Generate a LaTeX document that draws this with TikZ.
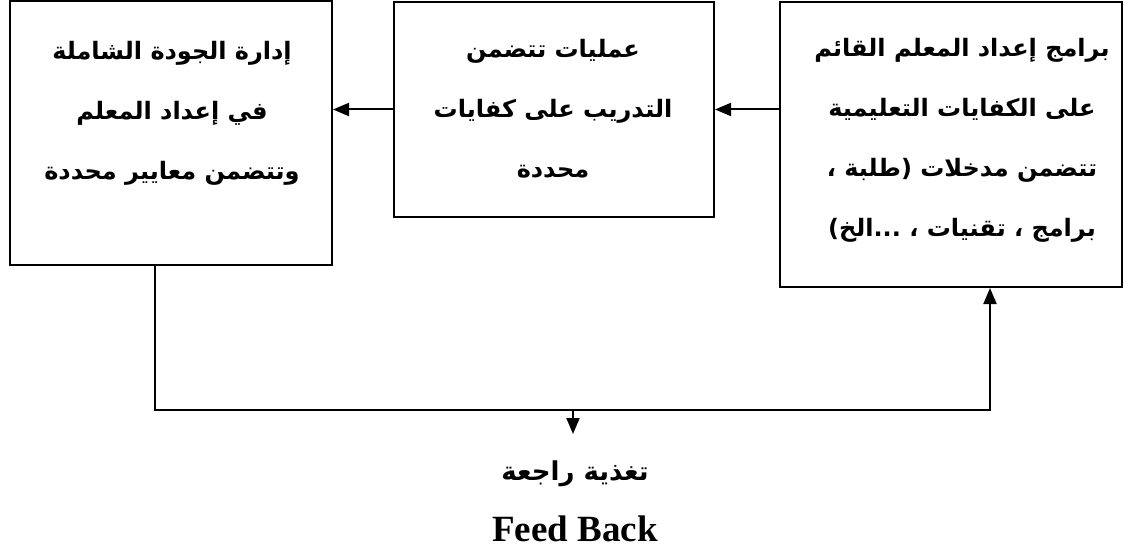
\documentclass[tikz,border=0pt]{standalone}
\usepackage{fontspec}
\usetikzlibrary{arrows.meta}
\TeXXeTstate=1
\newfontfamily\arabicfont[Script=Arabic]{DejaVu Sans}
\newfontfamily\latinserif{Liberation Serif}
\tikzset{
  box/.style={draw, line width=2pt, inner sep=0pt},
  artxt/.style={align=center, inner sep=0pt,
    font=\arabicfont\bfseries\fontsize{24}{60}\selectfont},
  conn/.style={line width=2pt},
  arr/.style={conn, -{Triangle[length=16pt,width=13pt]}},
}
\begin{document}
\begin{tikzpicture}[x=1pt,y=-1pt]
\useasboundingbox (0,0) rectangle (1125,548);
% boxes
\node[box, minimum width=322pt, minimum height=264pt] (L) at (171,133) {};
\node[box, minimum width=320pt, minimum height=215pt] (M) at (554,109.5) {};
\node[box, minimum width=342pt, minimum height=285pt] (R) at (951,144.5) {};
% texts
\node[artxt] (Lt) at (172,113) {\beginR إدارة الجودة الشاملة\endR\\\beginR في إعداد المعلم\endR\\\beginR وتتضمن معايير محددة\endR};
\node[artxt] (Mt) at (553,109) {\beginR عمليات تتضمن\endR\\\beginR التدريب على كفايات\endR\\\beginR محددة\endR};
\node[artxt] (Rt) at (962,140) {\beginR برامج إعداد المعلم القائم\endR\\\beginR على الكفايات التعليمية\endR\\\beginR تتضمن مدخلات (طلبة ،\endR\\\beginR برامج ، تقنيات ، ...الخ)\endR};
\node[inner sep=0pt, font=\arabicfont\bfseries\fontsize{26}{30}\selectfont] (fbA) at (575,474) {\beginR تغذية راجعة\endR};
\node[inner sep=0pt, font=\latinserif\bfseries\fontsize{37}{40}\selectfont] (fbE) at (575,529) {Feed Back};
% feedback coordinates
\coordinate (fbL) at (155,410);
\coordinate (fbR) at (990,410);
\coordinate (fbM) at (573,410);
\coordinate (fbT) at (573,434);
% connectors
\draw[arr] (R.west |- M.east) -- (M.east);
\draw[arr] (M.west) -- (L.east |- M.west);
\draw[arr] (L.south -| fbL) -- (fbL) -- (fbR) -- (R.south -| fbR);
\draw[arr] (fbM) -- (fbT);
\end{tikzpicture}
\end{document}
